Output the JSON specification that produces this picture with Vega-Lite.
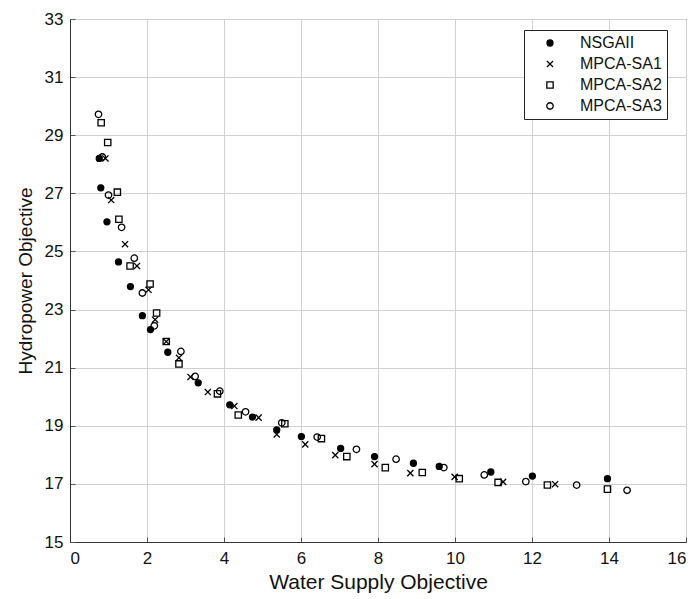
{
  "$schema": "https://vega.github.io/schema/vega-lite/v6.json",
  "autosize": "none",
  "width": 616,
  "height": 523,
  "padding": {"left": 70, "top": 19, "right": 10, "bottom": 57},
  "background": "white",
  "config": {
    "font": "Liberation Sans",
    "view": {"stroke": "#333333", "strokeWidth": 1},
    "axis": {
      "labelFont": "Liberation Sans",
      "titleFont": "Liberation Sans",
      "labelFontSize": 17,
      "titleFontWeight": "normal",
      "labelColor": "#111111",
      "titleColor": "#111111",
      "gridColor": "#d0d0d0",
      "gridWidth": 1,
      "domainColor": "#333333",
      "tickColor": "#555555",
      "tickSize": -5
    },
    "legend": {
      "orient": "none",
      "legendX": 454,
      "legendY": 11,
      "fillColor": "white",
      "strokeColor": "#222222",
      "padding": 5,
      "rowPadding": 5,
      "symbolOffset": 13,
      "labelOffset": 22,
      "labelFont": "Liberation Sans",
      "labelFontSize": 16,
      "labelColor": "#111111",
      "symbolStrokeWidth": 1.3
    }
  },
  "data": {
    "values": [
      {"x": 0.76, "y": 28.2, "s": "NSGAII"},
      {"x": 0.8, "y": 27.19, "s": "NSGAII"},
      {"x": 0.96, "y": 26.02, "s": "NSGAII"},
      {"x": 1.26, "y": 24.64, "s": "NSGAII"},
      {"x": 1.57, "y": 23.79, "s": "NSGAII"},
      {"x": 1.88, "y": 22.79, "s": "NSGAII"},
      {"x": 2.09, "y": 22.31, "s": "NSGAII"},
      {"x": 2.54, "y": 21.53, "s": "NSGAII"},
      {"x": 3.33, "y": 20.48, "s": "NSGAII"},
      {"x": 4.15, "y": 19.72, "s": "NSGAII"},
      {"x": 4.74, "y": 19.3, "s": "NSGAII"},
      {"x": 5.37, "y": 18.86, "s": "NSGAII"},
      {"x": 6.01, "y": 18.63, "s": "NSGAII"},
      {"x": 7.03, "y": 18.22, "s": "NSGAII"},
      {"x": 7.91, "y": 17.94, "s": "NSGAII"},
      {"x": 8.92, "y": 17.71, "s": "NSGAII"},
      {"x": 9.59, "y": 17.6, "s": "NSGAII"},
      {"x": 10.93, "y": 17.41, "s": "NSGAII"},
      {"x": 12.01, "y": 17.27, "s": "NSGAII"},
      {"x": 13.96, "y": 17.18, "s": "NSGAII"},
      {"x": 0.92, "y": 28.2, "s": "MPCA-SA1"},
      {"x": 1.07, "y": 26.77, "s": "MPCA-SA1"},
      {"x": 1.43, "y": 25.25, "s": "MPCA-SA1"},
      {"x": 1.74, "y": 24.5, "s": "MPCA-SA1"},
      {"x": 2.04, "y": 23.68, "s": "MPCA-SA1"},
      {"x": 2.21, "y": 22.65, "s": "MPCA-SA1"},
      {"x": 2.5, "y": 21.9, "s": "MPCA-SA1"},
      {"x": 2.83, "y": 21.34, "s": "MPCA-SA1"},
      {"x": 3.13, "y": 20.68, "s": "MPCA-SA1"},
      {"x": 3.58, "y": 20.16, "s": "MPCA-SA1"},
      {"x": 4.27, "y": 19.68, "s": "MPCA-SA1"},
      {"x": 4.9, "y": 19.28, "s": "MPCA-SA1"},
      {"x": 5.37, "y": 18.7, "s": "MPCA-SA1"},
      {"x": 6.11, "y": 18.36, "s": "MPCA-SA1"},
      {"x": 6.89, "y": 17.99, "s": "MPCA-SA1"},
      {"x": 7.91, "y": 17.68, "s": "MPCA-SA1"},
      {"x": 8.84, "y": 17.37, "s": "MPCA-SA1"},
      {"x": 9.99, "y": 17.24, "s": "MPCA-SA1"},
      {"x": 11.25, "y": 17.07, "s": "MPCA-SA1"},
      {"x": 12.6, "y": 16.99, "s": "MPCA-SA1"},
      {"x": 0.81, "y": 29.43, "s": "MPCA-SA2"},
      {"x": 0.98, "y": 28.75, "s": "MPCA-SA2"},
      {"x": 1.23, "y": 27.04, "s": "MPCA-SA2"},
      {"x": 1.27, "y": 26.11, "s": "MPCA-SA2"},
      {"x": 1.56, "y": 24.5, "s": "MPCA-SA2"},
      {"x": 2.08, "y": 23.88, "s": "MPCA-SA2"},
      {"x": 2.25, "y": 22.88, "s": "MPCA-SA2"},
      {"x": 2.5, "y": 21.9, "s": "MPCA-SA2"},
      {"x": 2.83, "y": 21.13, "s": "MPCA-SA2"},
      {"x": 3.83, "y": 20.1, "s": "MPCA-SA2"},
      {"x": 4.37, "y": 19.37, "s": "MPCA-SA2"},
      {"x": 5.58, "y": 19.07, "s": "MPCA-SA2"},
      {"x": 6.53, "y": 18.56, "s": "MPCA-SA2"},
      {"x": 7.19, "y": 17.94, "s": "MPCA-SA2"},
      {"x": 8.19, "y": 17.56, "s": "MPCA-SA2"},
      {"x": 9.15, "y": 17.39, "s": "MPCA-SA2"},
      {"x": 10.11, "y": 17.18, "s": "MPCA-SA2"},
      {"x": 11.12, "y": 17.05, "s": "MPCA-SA2"},
      {"x": 12.4, "y": 16.96, "s": "MPCA-SA2"},
      {"x": 13.96, "y": 16.82, "s": "MPCA-SA2"},
      {"x": 0.74, "y": 29.72, "s": "MPCA-SA3"},
      {"x": 0.84, "y": 28.25, "s": "MPCA-SA3"},
      {"x": 1.0, "y": 26.94, "s": "MPCA-SA3"},
      {"x": 1.34, "y": 25.83, "s": "MPCA-SA3"},
      {"x": 1.67, "y": 24.77, "s": "MPCA-SA3"},
      {"x": 1.88, "y": 23.57, "s": "MPCA-SA3"},
      {"x": 2.19, "y": 22.44, "s": "MPCA-SA3"},
      {"x": 2.88, "y": 21.56, "s": "MPCA-SA3"},
      {"x": 3.25, "y": 20.7, "s": "MPCA-SA3"},
      {"x": 3.89, "y": 20.19, "s": "MPCA-SA3"},
      {"x": 4.56, "y": 19.48, "s": "MPCA-SA3"},
      {"x": 5.5, "y": 19.1, "s": "MPCA-SA3"},
      {"x": 6.42, "y": 18.61, "s": "MPCA-SA3"},
      {"x": 7.44, "y": 18.19, "s": "MPCA-SA3"},
      {"x": 8.47, "y": 17.85, "s": "MPCA-SA3"},
      {"x": 9.71, "y": 17.56, "s": "MPCA-SA3"},
      {"x": 10.76, "y": 17.31, "s": "MPCA-SA3"},
      {"x": 11.84, "y": 17.08, "s": "MPCA-SA3"},
      {"x": 13.16, "y": 16.96, "s": "MPCA-SA3"},
      {"x": 14.47, "y": 16.78, "s": "MPCA-SA3"}
    ]
  },
  "mark": {"type": "point", "strokeWidth": 1.3, "opacity": 1},
  "encoding": {
    "x": {
      "field": "x", "type": "quantitative",
      "scale": {"domain": [0, 16], "nice": false, "zero": false},
      "axis": {"values": [0, 2, 4, 6, 8, 10, 12, 14, 16], "title": "Water Supply Objective", "titleFontSize": 21, "labelPadding": 13, "titlePadding": 5}
    },
    "y": {
      "field": "y", "type": "quantitative",
      "scale": {"domain": [15, 33], "nice": false, "zero": false},
      "axis": {"values": [15, 17, 19, 21, 23, 25, 27, 29, 31, 33], "title": "Hydropower Objective", "titleFontSize": 19, "labelPadding": 12, "titlePadding": 9}
    },
    "shape": {
      "field": "s", "type": "nominal",
      "scale": {
        "domain": ["NSGAII", "MPCA-SA1", "MPCA-SA2", "MPCA-SA3"],
        "range": ["circle", "M-1,-1L1,1M-1,1L1,-1", "square", "circle"]
      },
      "legend": {"title": null}
    },
    "fill": {
      "field": "s", "type": "nominal",
      "scale": {
        "domain": ["NSGAII", "MPCA-SA1", "MPCA-SA2", "MPCA-SA3"],
        "range": ["black", "transparent", "transparent", "transparent"]
      },
      "legend": {"title": null}
    },
    "stroke": {
      "field": "s", "type": "nominal",
      "scale": {
        "domain": ["NSGAII", "MPCA-SA1", "MPCA-SA2", "MPCA-SA3"],
        "range": ["black", "black", "black", "black"]
      },
      "legend": {"title": null}
    },
    "size": {
      "field": "s", "type": "nominal",
      "scale": {
        "domain": ["NSGAII", "MPCA-SA1", "MPCA-SA2", "MPCA-SA3"],
        "range": [36, 42, 40, 70]
      },
      "legend": {"title": null}
    }
  }
}
